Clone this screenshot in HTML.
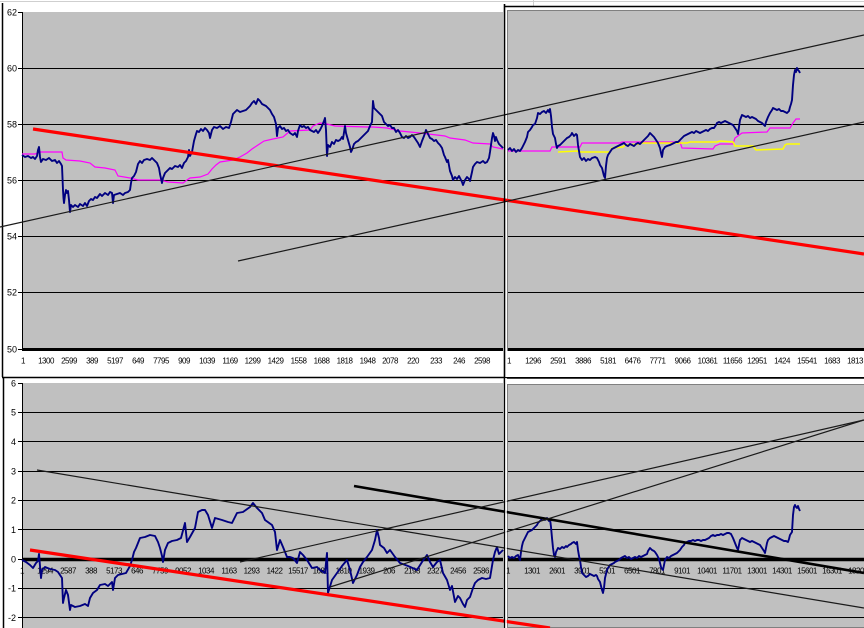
<!DOCTYPE html>
<html><head><meta charset="utf-8"><style>
html,body{margin:0;padding:0;background:#fff;width:864px;height:628px;overflow:hidden}
svg{display:block}
.yl{font-family:"Liberation Sans",sans-serif;font-size:9px;fill:#000;text-anchor:end}
.xl{font-family:"Liberation Sans",sans-serif;font-size:8px;fill:#000;text-anchor:middle;letter-spacing:-0.5px}
</style></head><body>
<svg width="864" height="628" viewBox="0 0 864 628" xmlns="http://www.w3.org/2000/svg">
<rect width="864" height="628" fill="#fff"/>
<line x1="0" y1="1.5" x2="864" y2="1.5" stroke="#cfcfcf"/>
<line x1="533.5" y1="0" x2="533.5" y2="6" stroke="#cfcfcf"/>
<line x1="2.5" y1="3" x2="2.5" y2="377" stroke="#000" stroke-width="1.5"/>
<line x1="3.5" y1="377" x2="3.5" y2="628" stroke="#000" stroke-width="1.5"/>
<line x1="2" y1="377.5" x2="864" y2="377.5" stroke="#000" stroke-width="1.5"/>

<!-- TOP LEFT -->
<rect x="22" y="12" width="481" height="338" fill="#c0c0c0"/>
<g stroke="#000" stroke-width="1">
<line x1="22" y1="68.5" x2="503" y2="68.5"/><line x1="22" y1="124.5" x2="503" y2="124.5"/>
<line x1="22" y1="180.5" x2="503" y2="180.5"/><line x1="22" y1="236.5" x2="503" y2="236.5"/>
<line x1="22" y1="292.5" x2="503" y2="292.5"/>
<line x1="22.5" y1="12" x2="22.5" y2="351"/>
<line x1="18" y1="12.5" x2="22" y2="12.5"/><line x1="18" y1="68.5" x2="22" y2="68.5"/><line x1="18" y1="124.5" x2="22" y2="124.5"/><line x1="18" y1="180.5" x2="22" y2="180.5"/><line x1="18" y1="236.5" x2="22" y2="236.5"/><line x1="18" y1="292.5" x2="22" y2="292.5"/><line x1="18" y1="349.5" x2="22" y2="349.5"/>
</g>
<line x1="22" y1="349.5" x2="503" y2="349.5" stroke="#000" stroke-width="3"/>
<text class="yl" x="17" y="15.5">62</text><text class="yl" x="17" y="71.5">60</text><text class="yl" x="17" y="127.5">58</text><text class="yl" x="17" y="183.5">56</text><text class="yl" x="17" y="239.5">54</text><text class="yl" x="17" y="295.5">52</text><text class="yl" x="17" y="352.5">50</text>
<g class="xl">
<text x="23" y="363.5">1</text><text x="46" y="363.5">1300</text><text x="69" y="363.5">2599</text><text x="92" y="363.5">389</text><text x="115" y="363.5">5197</text><text x="138" y="363.5">649</text><text x="161" y="363.5">7795</text><text x="184" y="363.5">909</text><text x="207" y="363.5">1039</text><text x="230" y="363.5">1169</text><text x="252.5" y="363.5">1299</text><text x="275.5" y="363.5">1429</text><text x="298.5" y="363.5">1558</text><text x="321.5" y="363.5">1688</text><text x="344.5" y="363.5">1818</text><text x="367.5" y="363.5">1948</text><text x="390" y="363.5">2078</text><text x="413" y="363.5">220</text><text x="436" y="363.5">233</text><text x="459" y="363.5">246</text><text x="482" y="363.5">2598</text>
</g>
<polyline fill="none" stroke="#ff00ff" stroke-width="1.2" points="22,154 35,154 40,152 62,152 63,158 66,160 80,161 90,163 95,167 105,168 115,170 118,176 130,178 138,180 160,180 168,182 183,183 187,180 190,178 200,177 208,174 212,169 216,165 220,162 233,160 240,157 247,153 252,149 258,145 264,141 273,139 283,137 290,131 310,130 313,126 320,123 327,124 335,126 367,127 373,127 387,128 400,131 420,133 445,136 450,138 465,140 473,143 490,144 493,147 503,149"/>
<polyline fill="none" stroke="#000080" stroke-width="1.9" stroke-linejoin="round" points="22,155 25,157 28,156 31,158 33,157 35,159 37,156 38,150 39,147 40,157 41,162 43,159 46,160 49,158 52,161 55,160 57,163 59,161 61,164 62,166 63,190 63.5,198 64,203 65,195 66,190 67,193 68,191 69,200 70,212 71,205 73,207 75,205 78,207 80,204 83,206 85,203 87,206 89,201 91,199 93,200 95,197 97,198 100,194 102,196 105,193 108,195 110,192 112,193 113,203 114,195 117,194 120,193 123,195 125,193 128,192 130,190 131,183 132,178 134,176 136,172 137,168 138,164 140,161 142,163 144,160 147,159 150,160 152,158 155,161 157,163 159,168 160,174 162,183 163,178 165,173 167,171 170,168 172,169 175,166 178,167 180,165 182,168 184,163 186,161 188,157 189,150 190,156 192,152 194,141 196,134 197,131 199,132 201,129 203,131 205,128 207,130 209,133 210,138 212,130 214,127 217,128 220,126 223,129 226,127 229,128 231,122 233,114 235,112 237,110 240,112 243,111 246,110 248,108 250,106 252,103 254,101 256,104 258,99 260,101 262,104 264,105 266,106 268,108 270,110 272,114 274,117 276,124 277,136 278,128 280,126 282,129 284,128 286,131 288,130 290,133 293,135 295,133 297,137 298,131 300,125 302,127 304,126 306,128 308,127 310,130 312,131 314,132 316,130 318,133 320,130 322,126 324,121 325,118 326,130 327,156 328,145 330,147 332,142 334,144 336,140 338,141 340,140 342,137 343,139 345,126 346,133 348,140 350,147 351,152 352,150 354,144 356,142 358,141 360,139 362,137 364,135 366,133 368,131 370,126 372,122 373,101 374,108 376,110 378,112 380,114 382,116 384,122 386,124 388,126 390,125 392,128 394,128 396,132 398,130 400,133 402,137 404,138 406,136 408,138 410,137 412,135 414,137 416,140 418,143 420,147 422,141 424,136 426,130 428,134 430,138 432,139 434,141 436,140 438,143 440,145 442,148 444,155 445,157 447,162 448,160 450,171 452,176 453,180 455,177 457,179 459,176 460,178 462,182 463,185 465,180 467,177 469,179 470,181 472,172 473,167 475,164 477,162 480,163 483,161 485,163 487,162 489,158 490,152 491,145 492,138 493,133 494,136 495,141 496,137 497,140 499,144 501,146 503,148"/>

<!-- TOP RIGHT -->
<rect x="504" y="6" width="360" height="371" fill="#fff"/>
<rect x="507.5" y="10.5" width="360" height="340" fill="#c0c0c0" stroke="#808080"/>
<g stroke="#000" stroke-width="1">
<line x1="508" y1="68.5" x2="864" y2="68.5"/><line x1="508" y1="124.5" x2="864" y2="124.5"/>
<line x1="508" y1="180.5" x2="864" y2="180.5"/><line x1="508" y1="236.5" x2="864" y2="236.5"/>
<line x1="508" y1="292.5" x2="864" y2="292.5"/>
</g>
<line x1="508" y1="349.5" x2="864" y2="349.5" stroke="#000" stroke-width="3"/>
<line x1="504" y1="6.5" x2="864" y2="6.5" stroke="#000" stroke-width="1.5"/>
<g class="xl">
<text x="509" y="363.5">1</text><text x="533" y="363.5">1296</text><text x="558" y="363.5">2591</text><text x="583" y="363.5">3886</text><text x="608" y="363.5">5181</text><text x="632.5" y="363.5">6476</text><text x="657.5" y="363.5">7771</text><text x="682.5" y="363.5">9066</text><text x="707.5" y="363.5">10361</text><text x="732.5" y="363.5">11656</text><text x="757" y="363.5">12951</text><text x="782" y="363.5">1424</text><text x="807" y="363.5">15541</text><text x="832" y="363.5">1683</text><text x="855" y="363.5">1813</text>
</g>
<polyline fill="none" stroke="#ff00ff" stroke-width="1.2" points="508,151 550,151 552,147 580,147 582,143 620,143 622,142 680,142 682,148 713,149 715,146 720,144 733,144 735,138 742,133 767,132 770,128 790,128 793,123 796,119 800,119"/>
<polyline fill="none" stroke="#ffff00" stroke-width="1.5" points="558,152 577,151 580,152 610,152 612,148 623,147 625,145 640,144 642,143 687,143 690,142 717,142 720,141 733,142 735,146 753,146 756,150 783,149 785,145 787,144 800,144"/>
<polyline fill="none" stroke="#000080" stroke-width="1.9" stroke-linejoin="round" points="508,150 510,148 512,151 514,149 516,152 518,150 520,151 522,148 524,144 525,142 527,137 528,132 530,130 532,127 533,125 535,124 537,118 538,113 540,114 542,112 544,111 546,113 548,110 549,112 550,109 551,116 552,127 553,134 555,138 556,144 557,148 558,146 560,145 562,143 564,141 566,139 567,138 569,137 571,135 572,133 574,136 576,134 577,135 578,145 580,157 582,160 584,158 586,161 588,159 590,160 592,158 595,157 597,158 599,162 600,165 602,168 603,172 604,176 605,178 606,166 607,158 608,155 610,152 612,149 614,148 616,147 618,146 620,145 622,144 624,143 626,145 628,146 630,144 632,145 634,146 636,144 638,143 640,144 642,142 644,140 646,138 648,136 650,133 652,135 654,137 656,140 658,143 660,148 661,153 662,157 663,150 665,147 667,146 670,145 672,144 674,143 676,142 678,142 680,140 682,138 684,136 686,135 688,134 690,133 692,132 694,133 696,131 698,132 700,133 702,132 704,131 706,130 708,131 710,129 712,128 714,128 716,125 717,123 719,122 721,123 723,122 725,121 727,122 729,123 731,124 733,125 735,128 737,131 738,134 739,127 740,120 742,115 744,116 746,117 748,116 750,118 752,117 754,118 756,119 758,121 760,122 762,123 764,125 765,126 766,122 768,117 770,113 772,110 773,108 775,109 777,110 779,109 781,111 783,111 785,112 787,113 789,111 790,107 791,104 792,100 793,85 794,75 795,70 796,72 797,68 798,70 799,71 800,73"/>

<!-- top trend lines -->
<line x1="33" y1="129" x2="864" y2="254" stroke="#ff0000" stroke-width="3.2"/>
<line x1="0" y1="227" x2="864" y2="35" stroke="#1a1a1a" stroke-width="1.2"/>
<line x1="238" y1="261" x2="864" y2="122" stroke="#1a1a1a" stroke-width="1.2"/>

<!-- BOTTOM LEFT -->
<rect x="22" y="383" width="481" height="245" fill="#c0c0c0"/>
<g stroke="#000" stroke-width="1">
<line x1="22" y1="412.5" x2="503" y2="412.5"/><line x1="22" y1="441.5" x2="503" y2="441.5"/>
<line x1="22" y1="471.5" x2="503" y2="471.5"/><line x1="22" y1="500.5" x2="503" y2="500.5"/>
<line x1="22" y1="529.5" x2="503" y2="529.5"/><line x1="22" y1="588.5" x2="503" y2="588.5"/>
<line x1="22" y1="617.5" x2="503" y2="617.5"/>
<line x1="22.5" y1="383" x2="22.5" y2="628"/>
<line x1="18" y1="383.5" x2="22" y2="383.5"/><line x1="18" y1="412.5" x2="22" y2="412.5"/><line x1="18" y1="441.5" x2="22" y2="441.5"/><line x1="18" y1="471.5" x2="22" y2="471.5"/><line x1="18" y1="500.5" x2="22" y2="500.5"/><line x1="18" y1="529.5" x2="22" y2="529.5"/><line x1="18" y1="559.5" x2="22" y2="559.5"/><line x1="18" y1="588.5" x2="22" y2="588.5"/><line x1="18" y1="617.5" x2="22" y2="617.5"/>
</g>
<line x1="22" y1="559.5" x2="503" y2="559.5" stroke="#000" stroke-width="3.5"/>
<text class="yl" x="16" y="386.5">6</text><text class="yl" x="16" y="415.5">5</text><text class="yl" x="16" y="445">4</text><text class="yl" x="16" y="474.5">3</text><text class="yl" x="16" y="503.5">2</text><text class="yl" x="16" y="533">1</text><text class="yl" x="16" y="562.5">0</text><text class="yl" x="16" y="591.5">-1</text><text class="yl" x="16" y="621">-2</text>
<g class="xl">
<text x="22" y="573.5">1</text><text x="45" y="573.5">1294</text><text x="68" y="573.5">2587</text><text x="91" y="573.5">388</text><text x="114" y="573.5">5173</text><text x="137" y="573.5">646</text><text x="160" y="573.5">7759</text><text x="183" y="573.5">9052</text><text x="206" y="573.5">1034</text><text x="229" y="573.5">1163</text><text x="251.5" y="573.5">1293</text><text x="274.5" y="573.5">1422</text><text x="298" y="573.5">15517</text><text x="320.5" y="573.5">1681</text><text x="343.5" y="573.5">1810</text><text x="366.5" y="573.5">1939</text><text x="389" y="573.5">206</text><text x="412" y="573.5">2198</text><text x="435" y="573.5">2327</text><text x="458" y="573.5">2456</text><text x="481" y="573.5">2586</text>
</g>
<polyline fill="none" stroke="#000080" stroke-width="1.9" stroke-linejoin="round" points="22,560 26,562 30,565 33,568 36,563 38,561 39,554 40,566 41,578 42,570 45,567 50,569 55,570 58,572 60,575 62,578 63,603 64,598 66,590 68,595 70,610 71,605 75,607 80,606 85,604 88,606 90,598 93,593 97,590 100,585 105,584 108,586 112,582 113,590 115,578 118,575 122,574 126,573 130,566 132,560 134,552 136,548 138,543 140,538 145,537 150,535 155,536 158,542 160,548 162,556 163,562 165,550 168,543 172,541 177,540 181,538 185,523 187,542 190,537 195,528 198,512 202,510 205,510 208,515 212,528 215,518 222,520 228,522 232,523 237,513 243,512 250,507 253,503 257,508 262,513 265,520 272,525 275,532 277,550 280,540 283,547 287,557 290,557 293,558 297,563 300,552 303,555 307,560 312,568 317,567 320,570 325,573 327,553 328,593 332,580 337,573 342,566 347,560 350,570 353,583 357,575 360,567 363,562 367,557 372,550 375,540 377,530 379,538 380,545 384,548 387,553 390,550 395,557 400,563 408,566 417,570 422,562 427,555 430,562 433,567 437,562 440,560 443,573 447,580 450,590 452,586 455,602 458,596 460,598 463,604 465,607 467,600 470,597 473,588 475,583 478,580 482,578 486,579 490,578 493,560 495,552 497,547 499,554 500,553 503,550"/>

<!-- BOTTOM RIGHT -->
<rect x="504" y="378" width="360" height="250" fill="#fff"/>
<rect x="507.5" y="384.5" width="357" height="243" fill="#c0c0c0" stroke="#808080"/>
<g stroke="#000" stroke-width="1">
<line x1="508" y1="412.5" x2="864" y2="412.5"/><line x1="508" y1="441.5" x2="864" y2="441.5"/>
<line x1="508" y1="471.5" x2="864" y2="471.5"/><line x1="508" y1="500.5" x2="864" y2="500.5"/>
<line x1="508" y1="529.5" x2="864" y2="529.5"/><line x1="508" y1="588.5" x2="864" y2="588.5"/>
<line x1="508" y1="617.5" x2="864" y2="617.5"/>
</g>
<line x1="508" y1="559.5" x2="864" y2="559.5" stroke="#000" stroke-width="3.5"/>
<line x1="504" y1="378" x2="864" y2="378" stroke="#000" stroke-width="1.5"/>
<g class="xl">
<text x="508" y="573.5">1</text><text x="532" y="573.5">1301</text><text x="557" y="573.5">2601</text><text x="582" y="573.5">3901</text><text x="607" y="573.5">5201</text><text x="632" y="573.5">6501</text><text x="657" y="573.5">7801</text><text x="682" y="573.5">9101</text><text x="707" y="573.5">10401</text><text x="732" y="573.5">11701</text><text x="757" y="573.5">13001</text><text x="782" y="573.5">14301</text><text x="807" y="573.5">15601</text><text x="832" y="573.5">16301</text><text x="856" y="573.5">1820</text>
</g>
<polyline fill="none" stroke="#000080" stroke-width="1.9" stroke-linejoin="round" points="508,556 510,558 512,557 514,558 516,556 518,555 519,558 520,560 521,552 522,546 523,542 525,538 527,534 528,532 530,531 532,530 533,529 535,527 537,525 538,523 540,521 542,519 543,518 545,520 547,518 549,521 550,519 551,527 552,538 553,548 554,555 555,557 556,552 558,548 560,549 562,547 564,548 566,546 567,547 569,545 571,544 572,543 574,542 576,544 577,542 578,550 579,556 580,560 581,567 582,573 584,575 586,577 588,576 590,574 592,575 594,576 596,575 597,576 598,579 600,582 601,586 602,590 603,593 604,588 605,578 606,574 607,570 608,568 610,565 612,564 614,563 615,562 617,561 619,560 621,558 623,557 625,556 627,558 629,557 631,559 633,558 635,557 637,558 639,556 641,557 643,556 645,555 647,554 648,551 650,548 652,550 654,551 655,552 657,555 659,559 660,563 661,567 662,569 663,570 664,565 665,560 667,557 669,558 671,556 673,555 675,554 677,553 679,551 680,550 682,547 684,545 685,543 687,542 689,541 691,541 693,540 695,541 697,540 699,540 701,541 703,540 705,540 707,539 709,538 711,536 713,535 715,536 717,535 719,535 721,534 723,535 725,534 727,533 729,533 731,534 733,538 735,543 737,548 738,550 739,545 740,540 742,538 744,539 746,540 748,541 750,542 752,541 754,542 756,543 758,544 760,545 762,548 764,551 765,553 766,548 767,543 768,540 770,538 772,537 774,536 776,537 778,538 780,539 782,540 784,541 786,541 788,542 789,539 790,535 792,532 793,515 794,507 795,505 796,507 797,508 798,506 799,509 800,511"/>

<!-- bottom trend lines -->
<line x1="30" y1="550" x2="550" y2="628" stroke="#ff0000" stroke-width="3.2"/>
<line x1="37" y1="470" x2="864" y2="608" stroke="#1a1a1a" stroke-width="1.2"/>
<line x1="354" y1="486" x2="864" y2="573" stroke="#000" stroke-width="2.6"/>
<line x1="240" y1="562" x2="864" y2="420" stroke="#1a1a1a" stroke-width="1.2"/>
<line x1="330" y1="587" x2="864" y2="420" stroke="#1a1a1a" stroke-width="1.2"/>

<!-- divider -->
<line x1="504.5" y1="4" x2="504.5" y2="628" stroke="#000" stroke-width="1.6"/>
<line x1="506" y1="378" x2="506" y2="628" stroke="#fff" stroke-width="1.5"/>
</svg>
</body></html>
